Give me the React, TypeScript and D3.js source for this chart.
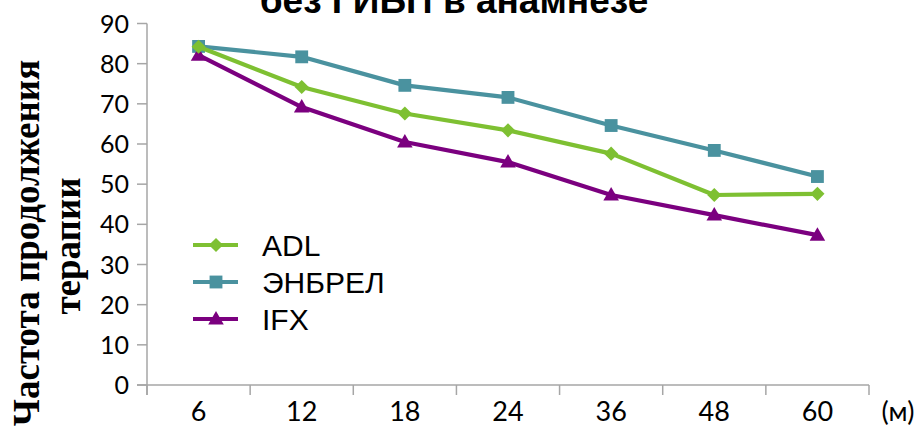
import React from "react";
import * as d3 from "d3";

// Treatment duration, months
const months = ["6", "12", "18", "24", "36", "48", "60"];
// Share of patients continuing therapy, %
const adlValues = [84.2, 74.2, 67.6, 63.4, 57.6, 47.3, 47.6];
const enbrelValues = [84.3, 81.7, 74.6, 71.6, 64.6, 58.4, 51.9];
const ifxValues = [82.1, 69.2, 60.5, 55.5, 47.3, 42.3, 37.3];
const yTicks = [0, 10, 20, 30, 40, 50, 60, 70, 80, 90];

const seriesNames = ["ADL", "ЭНБРЕЛ", "IFX"];
const seriesColors = ["#7EC032", "#4A929F", "#7B007F"];
const seriesShapes = ["diamond", "square", "triangle"];
const seriesValues = [adlValues, enbrelValues, ifxValues];
// paint order: teal first, then purple, then green on top
const drawOrder = [1, 2, 0];

const W = 921;
const H = 427;
const left = 147;
const right = 869;
const top = 23.5;
const bottom = 385;

const x = d3.scaleBand<string>().domain(months).range([left, right]).padding(0);
const y = d3.scaleLinear().domain([0, 90]).range([bottom, top]);
const line = d3
  .line<number>()
  .x((_, i) => (x(months[i]) as number) + x.bandwidth() / 2)
  .y((d) => y(d));

const axisColor = "#A6A6A6";
const labelFont = "Lato, 'Open Sans', sans-serif";

function markerPath(shape: string): string {
  if (shape === "square") return d3.symbol(d3.symbolSquare, 165)() as string;
  if (shape === "triangle") return d3.symbol(d3.symbolTriangle, 105)() as string;
  return d3.symbol(d3.symbolSquare, 100)() as string;
}

function Marker({ shape, cx, cy, color }: { shape: string; cx: number; cy: number; color: string }) {
  const rot = shape === "diamond" ? " rotate(45)" : "";
  const dy = shape === "triangle" ? 1 : 0;
  return <path d={markerPath(shape)} transform={`translate(${cx},${cy + dy})${rot}`} fill={color} />;
}

export default function App() {
  const bandTicks = months.map((m) => x(m) as number).concat([right]);
  return (
    <svg
      width={W}
      height={H}
      viewBox={`0 0 ${W} ${H}`}
      style={{ position: "absolute", left: 0, top: 0, background: "#fff" }}
    >
      {/* title, partly above the top edge */}
      <text
        x={454}
        y={13}
        textAnchor="middle"
        fontFamily="'Liberation Sans', Arial, sans-serif"
        fontWeight="bold"
        fontSize={37}
        fill="#000"
      >
        без ГИБП в анамнезе
      </text>

      {/* y axis title */}
      <g fontFamily="'Liberation Serif', 'Times New Roman', serif" fontWeight="bold" fontSize={37} fill="#000">
        <text transform={`translate(39,243) rotate(-90)`} textAnchor="middle">
          Частота продолжения
        </text>
        <text transform={`translate(80,246) rotate(-90)`} textAnchor="middle">
          терапии
        </text>
      </g>

      {/* y axis */}
      <line x1={left} x2={left} y1={top} y2={bottom + 10} stroke={axisColor} strokeWidth={1.5} />
      {yTicks.map((t) => (
        <g key={t}>
          <line x1={left - 10} x2={left} y1={y(t)} y2={y(t)} stroke={axisColor} strokeWidth={1.5} />
          <text
            x={129}
            y={y(t)}
            dy="0.36em"
            textAnchor="end"
            fontFamily={labelFont}
            fontSize={25}
            fill="#000"
          >
            {t}
          </text>
        </g>
      ))}

      {/* x axis */}
      <line x1={left - 10} x2={right} y1={bottom} y2={bottom} stroke={axisColor} strokeWidth={1.5} />
      {bandTicks.map((bx, i) => (
        <line key={i} x1={bx} x2={bx} y1={bottom} y2={bottom + 10} stroke={axisColor} strokeWidth={1.5} />
      ))}
      {months.map((m) => (
        <text
          key={m}
          x={(x(m) as number) + x.bandwidth() / 2}
          y={421}
          textAnchor="middle"
          fontFamily={labelFont}
          fontSize={27}
          fill="#000"
        >
          {m}
        </text>
      ))}
      <text x={898} y={421} textAnchor="middle" fontFamily={labelFont} fontSize={27} fill="#000">
        (м)
      </text>

      {/* series */}
      {drawOrder.map((s) => (
        <g key={seriesNames[s]}>
          <path d={line(seriesValues[s]) as string} fill="none" stroke={seriesColors[s]} strokeWidth={4.2} strokeLinejoin="round" />
          {seriesValues[s].map((v, i) => (
            <Marker
              key={i}
              shape={seriesShapes[s]}
              cx={(x(months[i]) as number) + x.bandwidth() / 2}
              cy={y(v)}
              color={seriesColors[s]}
            />
          ))}
        </g>
      ))}

      {/* legend */}
      {seriesNames.map((name, i) => {
        const ly = 245 + i * 37;
        return (
          <g key={name}>
            <line x1={193} x2={238} y1={ly} y2={ly} stroke={seriesColors[i]} strokeWidth={4.2} />
            <Marker shape={seriesShapes[i]} cx={216} cy={ly} color={seriesColors[i]} />
            <text
              x={262}
              y={ly}
              dy="0.36em"
              fontFamily="'Liberation Sans', Arial, sans-serif"
              fontSize={30}
              fill="#000"
            >
              {name}
            </text>
          </g>
        );
      })}
    </svg>
  );
}
